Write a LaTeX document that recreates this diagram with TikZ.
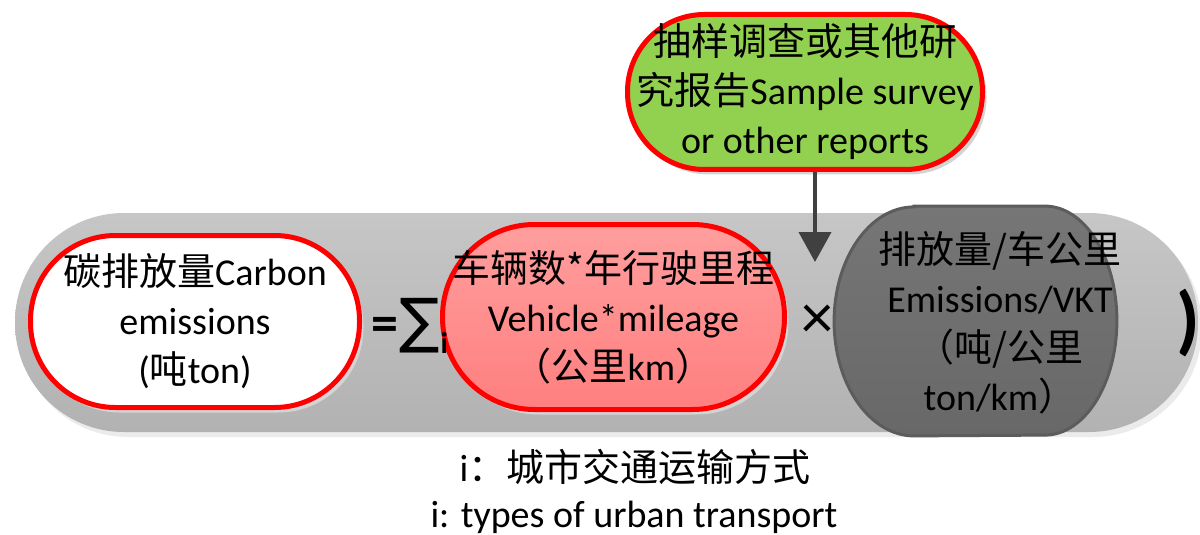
\documentclass[tikz,border=0pt]{standalone}
\usepackage{fontspec}
\setmainfont{Carlito}
\newfontfamily\cjk{Noto Sans CJK SC}
\newfontfamily\dejavu{DejaVu Sans}
\usetikzlibrary{arrows.meta,shadows}
\definecolor{capTop}{HTML}{C6C6C6}
\definecolor{capBot}{HTML}{B2B2B2}
\definecolor{pinkTop}{HTML}{FF9E9E}
\definecolor{pinkBot}{HTML}{FF7F7F}
\definecolor{leafgreen}{HTML}{92D050}
\definecolor{darkTop}{HTML}{767676}
\definecolor{darkBot}{HTML}{686868}
\definecolor{darkline}{HTML}{5C5C5C}
\definecolor{arrowgray}{HTML}{404040}
\definecolor{shadowgray}{HTML}{D4D4D4}
\tikzset{
  txt/.style={font=\fontsize{19}{24.5}\selectfont, align=center, inner sep=0pt},
  pill/.style={draw=red, line width=2.5pt, inner sep=0pt,
    drop shadow={shadow xshift=2pt, shadow yshift=-2.5pt, fill=shadowgray, opacity=1}},
  arrowline/.style={draw=arrowgray, line width=2pt, -{Triangle[width=16pt,length=15pt]}},
  efshape/.style={draw=darkline, line width=1.5pt, top color=darkTop, bottom color=darkBot},
  efshadow/.style={fill=capBot!65!white},
}
\begin{document}
\begin{tikzpicture}[x=0.5pt,y=-0.5pt]
\useasboundingbox (0,0) rectangle (1200,535);
% background capsule
\node[inner sep=0pt, minimum width=591.5pt, minimum height=109.5pt, rounded corners=54.5pt,
  top color=capTop, bottom color=capBot,
  drop shadow={shadow xshift=2pt, shadow yshift=-2.5pt, fill=black!8, opacity=1}] (bg) at (606.5,322.5) {};
% carbon emissions
\node[txt, pill, fill=white, minimum width=164.5pt, minimum height=86pt, rounded corners=42.5pt]
  (ce) at (195,321.5) {{\cjk 碳排放量}Carbon\\emissions\\({\cjk 吨}ton)};
% vehicle mileage
\node[txt, pill, top color=pinkTop, bottom color=pinkBot, minimum width=171pt, minimum height=92.5pt, rounded corners=46pt]
  (vm) at (613.5,317) {{\cjk 车辆数*年行驶里程}\\Vehicle*mileage\\{\cjk （公里}km{\cjk ）}};
% sum
\node[inner sep=0pt, anchor=west] (sum) at (371,326)
  {\bfseries\fontsize{27}{27}\selectfont =\kern0.5pt{\mdseries\dejavu\fontsize{30}{30}\selectfont ∑}\kern0.5pt\raisebox{-6pt}{\fontsize{15}{15}\selectfont i}};
% times
\node[inner sep=0pt] (times) at (817,322) {\fontsize{32}{32}\selectfont ×};
% emissions per km (rectangle with elliptic ends)
\node[inner sep=0pt, minimum width=141pt, minimum height=114.5pt] (ef) at (975.5,321) {};
\begin{scope}[xshift=3pt, yshift=-2.5pt]
\path[efshadow] ([xshift=40pt]ef.north west) -- ([xshift=-36pt]ef.north east)
  arc[start angle=90, end angle=-90, x radius=36pt, y radius=57.25pt]
  -- ([xshift=40pt]ef.south west)
  arc[start angle=270, end angle=90, x radius=40pt, y radius=57.25pt] -- cycle;
\end{scope}
\path[efshape] ([xshift=40pt]ef.north west) -- ([xshift=-36pt]ef.north east)
  arc[start angle=90, end angle=-90, x radius=36pt, y radius=57.25pt]
  -- ([xshift=40pt]ef.south west)
  arc[start angle=270, end angle=90, x radius=40pt, y radius=57.25pt] -- cycle;
\node[txt] (eftext) at (1000,323) {{\cjk 排放量/车公里}\\Emissions/VKT\\{\cjk （吨/公里}\\ton/km{\cjk ）}};
% closing paren
\node[inner sep=0pt] (paren) at (1188,323) {\bfseries\fontsize{38}{38}\selectfont )};
% survey
\node[txt, pill, fill=leafgreen, minimum width=177.5pt, minimum height=77.5pt, rounded corners=38.5pt]
  (sv) at (805,92) {{\cjk 抽样调查或其他研}\\{\cjk 究报告}Sample survey\\or other reports};
\coordinate (tip) at (815,262);
\draw[arrowline] (sv.south -| tip) -- (tip);
% legend
\node[txt] (leg1) at (635,467) {i{\cjk ：城市交通运输方式}};
\node[txt] (leg2) at (634,517) {i: types of urban transport};
\end{tikzpicture}
\end{document}
